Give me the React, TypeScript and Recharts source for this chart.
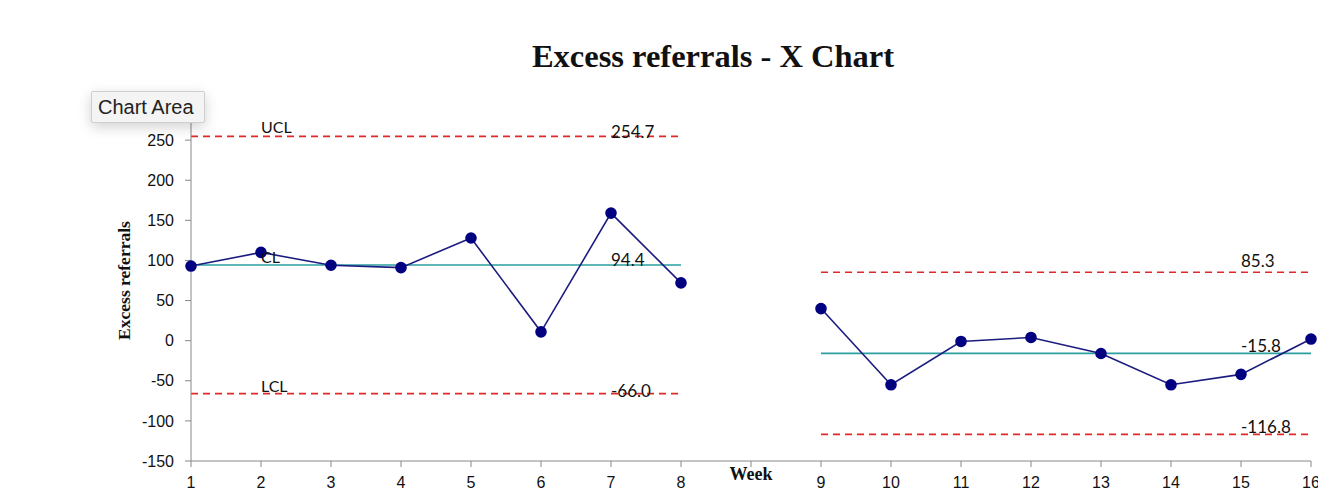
import React from 'react';
import { LineChart, Line, XAxis, YAxis, LabelList } from 'recharts';

const categories = ['1', '2', '3', '4', '5', '6', '7', '8', 'Week', '9', '10', '11', '12', '13', '14', '15', '16'];
const excess = [93, 110, 94, 91, 128, 11, 159, 72, null, 40, -55, -1, 4, -16, -55, -42, 2];
const ucl = [254.7, 254.7, 254.7, 254.7, 254.7, 254.7, 254.7, 254.7, null, 85.3, 85.3, 85.3, 85.3, 85.3, 85.3, 85.3, 85.3];
const cl = [94.4, 94.4, 94.4, 94.4, 94.4, 94.4, 94.4, 94.4, null, -15.8, -15.8, -15.8, -15.8, -15.8, -15.8, -15.8, -15.8];
const lcl = [-66.0, -66.0, -66.0, -66.0, -66.0, -66.0, -66.0, -66.0, null, -116.8, -116.8, -116.8, -116.8, -116.8, -116.8, -116.8, -116.8];
const uclText = ['', 'UCL', '', '', '', '', '254.7', '', '', '', '', '', '', '', '', '85.3', ''];
const clText = ['', 'CL', '', '', '', '', '94.4', '', '', '', '', '', '', '', '', '-15.8', ''];
const lclText = ['', 'LCL', '', '', '', '', '-66.0', '', '', '', '', '', '', '', '', '-116.8', ''];
const yTicks = [-150, -100, -50, 0, 50, 100, 150, 200, 250];

const data = categories.map((c, i) => ({
  week: c,
  excess: excess[i],
  ucl: ucl[i],
  cl: cl[i],
  lcl: lcl[i],
  uclText: uclText[i],
  clText: clText[i],
  lclText: lclText[i],
}));

const LABEL_FONT = 'Lato, "Open Sans", sans-serif';
const SERIF = '"Liberation Serif", "Times New Roman", serif';
const SANS = '"Liberation Sans", Arial, sans-serif';

const makeLabel = (dyName: number, dyLeftVal: number, dyRightVal: number) => (props: any) => {
  const { x, y, value, index } = props;
  if (value === undefined || value === null || value === '') return null;
  const dy = index < 2 ? dyName : index < 8 ? dyLeftVal : dyRightVal;
  return (
    <text x={x} y={y + dy} fontFamily={LABEL_FONT} fontSize={index < 2 ? 16 : 17} fill="#111" textAnchor="start">
      {value}
    </text>
  );
};

const XTick = (props: any) => {
  const { x, y, payload } = props;
  const isWeek = payload.value === 'Week';
  return (
    <text
      x={x}
      y={y}
      dy={isWeek ? 11 : 19}
      textAnchor="middle"
      fill="#111"
      fontFamily={isWeek ? SERIF : SANS}
      fontWeight={isWeek ? 'bold' : 'normal'}
      fontSize={isWeek ? 18 : 16}
    >
      {payload.value}
    </text>
  );
};

const RED = '#e02828';
const TEAL = '#2a9ea0';
const NAVY = '#1c1c80';

export default function App() {
  return (
    <div style={{ position: 'absolute', left: 0, top: 0, width: 1318, height: 491, background: '#fff', overflow: 'hidden' }}>
      <LineChart width={1318} height={491} data={data} margin={{ top: 100, right: 7, bottom: 0, left: 0 }}>
        <XAxis
          dataKey="week"
          type="category"
          interval={0}
          height={30}
          tickSize={6}
          tickMargin={2}
          stroke="#888"
          tick={<XTick />}
        />
        <YAxis
          type="number"
          domain={[-150, 300]}
          ticks={yTicks}
          interval={0}
          width={191}
          tickSize={6}
          tickMargin={11}
          stroke="#888"
          tick={{ fill: '#111', fontSize: 16, fontFamily: SANS }}
          label={{ value: 'Excess referrals', angle: -90, position: 'center', dx: 28, style: { fontFamily: SERIF, fontWeight: 'bold', fontSize: 17.5, fill: '#111', textAnchor: 'middle' } }}
        />
        <Line dataKey="ucl" stroke={RED} strokeWidth={1.6} strokeDasharray="7 5" dot={false} activeDot={false} isAnimationActive={false} connectNulls={false}>
          <LabelList dataKey="uclText" content={makeLabel(-3, 2, -5)} />
        </Line>
        <Line dataKey="lcl" stroke={RED} strokeWidth={1.6} strokeDasharray="7 5" dot={false} activeDot={false} isAnimationActive={false} connectNulls={false}>
          <LabelList dataKey="lclText" content={makeLabel(-2, 3, -1)} />
        </Line>
        <Line dataKey="cl" stroke={TEAL} strokeWidth={1.6} dot={false} activeDot={false} isAnimationActive={false} connectNulls={false}>
          <LabelList dataKey="clText" content={makeLabel(-2, 1, -1)} />
        </Line>
        <Line dataKey="excess" stroke={NAVY} strokeWidth={1.6} dot={{ r: 5, fill: '#000080', stroke: '#000080' }} activeDot={false} isAnimationActive={false} connectNulls={false} />
      </LineChart>
      <div
        style={{
          position: 'absolute',
          left: 713,
          top: 38,
          transform: 'translateX(-50%)',
          fontFamily: SERIF,
          fontWeight: 'bold',
          fontSize: 32.5,
          color: '#111',
          whiteSpace: 'nowrap',
        }}
      >
        Excess referrals - X Chart
      </div>
      <div
        style={{
          position: 'absolute',
          left: 91,
          top: 91,
          width: 114,
          height: 32,
          boxSizing: 'border-box',
          background: '#f4f4f4',
          border: '1px solid #cfcfcf',
          borderRadius: 2,
          boxShadow: '0 4px 14px rgba(0,0,0,0.18)',
          fontFamily: SANS,
          fontSize: 20,
          color: '#222',
          lineHeight: '30px',
          paddingLeft: 6,
          whiteSpace: 'nowrap',
        }}
      >
        Chart Area
      </div>
    </div>
  );
}
